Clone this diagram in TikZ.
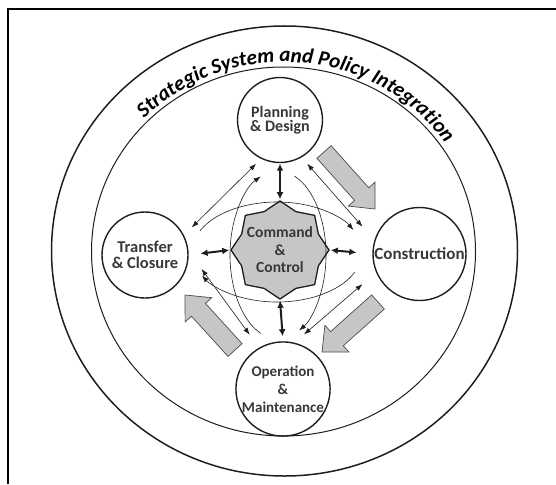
\documentclass[tikz,border=0pt]{standalone}
\usepackage{fontspec}
\setmainfont{Carlito}
\newfontfamily\ringfont{Carlito}
\usetikzlibrary{arrows.meta,shapes.geometric,calc,decorations.text}

\definecolor{ink}{HTML}{1E1E1E}
\definecolor{txt}{HTML}{383838}
\definecolor{boxgray}{HTML}{C6C6C6}

\newcommand\ringstyle{\ringfont\bfseries\itshape\fontsize{21pt}{21pt}\selectfont}

% block arrow from tail #1 to tip #2
\newcommand\flowarrow[2]{%
  \coordinate (fat) at #1;
  \coordinate (fap) at #2;
  \coordinate (fah) at ($(fap)!20pt!(fat)$);
  \draw[flow] ($(fat)!9.5pt!90:(fap)$) -- ($(fah)!9.5pt!-90:(fat)$)
    -- ($(fah)!18pt!-90:(fat)$) -- (fap) -- ($(fah)!18pt!90:(fat)$)
    -- ($(fah)!9.5pt!90:(fat)$) -- ($(fat)!9.5pt!-90:(fap)$) -- cycle;
}

\tikzset{
  frameline/.style={line width=2pt, black},
  ringouter/.style={line width=1.5pt, ink},
  ringinner/.style={line width=1pt, ink},
  stage/.style={circle, draw=ink, line width=1.4pt, minimum size=88pt,
    inner sep=0pt, align=center, text=txt},
  ccstar/.style={star, star points=8, star point ratio=1.18, minimum size=98pt,
    inner sep=0pt, draw=ink, fill=boxgray, line width=1.3pt},
  cclabel/.style={align=center, text=txt,
    font=\bfseries\fontsize{15.5pt}{17.5pt}\selectfont},
  bigdbl/.style={line width=2pt, ink, {Latex[length=7pt,width=7pt]}-{Latex[length=7pt,width=7pt]}},
  thindbl/.style={line width=0.6pt, ink, {Latex[length=7pt,width=5pt]}-{Latex[length=7pt,width=5pt]}},
  thinarrow/.style={line width=0.6pt, ink, -{Latex[length=7pt,width=5pt]}},
  flow/.style={draw=ink!80, line width=0.7pt, fill=boxgray},
}

\begin{document}
\begin{tikzpicture}[x=1pt,y=-1pt]
\useasboundingbox (0,0) rectangle (556,484);

% frame
\draw[frameline] (8,484) -- (8,9) -- (556,9);

% rings
\draw[ringouter] (284.5,251) ellipse [x radius=233, y radius=225];
\draw[ringinner] (283.5,251.5) ellipse [x radius=192, y radius=184.5];

% title along the ring
\begin{scope}[shift={(284,251)}, x=1pt, y=1pt]
  \path[decorate, decoration={text along path, text align=center,
      text={|\ringstyle|Strategic System and Policy Integration}}]
    (170:196 and 189) arc[start angle=170, end angle=0, x radius=196, y radius=189];
\end{scope}

% stages
\node[stage, minimum size=85pt, font=\bfseries\fontsize{16pt}{14pt}\selectfont] (plan) at (280,120) {Planning\\\& Design};
\node[stage, minimum size=86pt, font=\bfseries\fontsize{16.5pt}{16pt}\selectfont] (trans) at (145,255) {Transfer\\\& Closure};
\node[stage, minimum size=93pt, font=\bfseries\fontsize{17pt}{17pt}\selectfont] (cons) at (419.5,254) {Construction};
\node[stage, minimum size=90pt, font=\bfseries\fontsize{15pt}{18pt}\selectfont] (oper) at (283,389) {Operation\\\&\\Maintenance};

% command & control
\node[ccstar] (cc) at (280,250) {};
\node[cclabel] (cctext) at (cc.center) {Command\\\&\\Control};

% crossing loops
\coordinate (hc) at (277,252);
\coordinate (vc) at (278,255);
\draw[thinarrow] (hc) ++(205:85 and 50) arc[start angle=205, end angle=334, x radius=85, y radius=50];
\draw[thinarrow] (hc) ++(24:85 and 50) arc[start angle=24, end angle=152, x radius=85, y radius=50];
\draw[thinarrow] (vc) ++(-70:48 and 84) arc[start angle=-70, end angle=64, x radius=48, y radius=84];
\draw[thinarrow] (vc) ++(111:48 and 84) arc[start angle=111, end angle=249, x radius=48, y radius=84];

% links between stages
\draw[thindbl, shorten <=11pt, shorten >=7pt] (trans.27) -- (plan.244);
\draw[thindbl, shorten <=8.5pt, shorten >=18pt] (plan.300) -- (cons.163);
\draw[thindbl, shorten <=12.5pt, shorten >=18pt] (oper.76) -- (cons.203);
\draw[thindbl, shorten <=22pt, shorten >=16pt] (trans.5) -- (oper.120);

% command links
\draw[bigdbl, shorten <=0.5pt, shorten >=1pt] (plan.south) -- (cc.north);
\draw[bigdbl, shorten <=1pt, shorten >=5pt] (cc.south) -- (oper.north);
\draw[bigdbl, shorten <=12pt, shorten >=1pt] (trans.east) -- (cc.west);
\draw[bigdbl, shorten <=1pt, shorten >=16pt] (cc.east) -- (cons.west);

% phase flow
\flowarrow{(324,152)}{(375,209)}
\flowarrow{(378,302)}{(322,352)}
\flowarrow{(235,350)}{(185,295)}

\end{tikzpicture}
\end{document}
